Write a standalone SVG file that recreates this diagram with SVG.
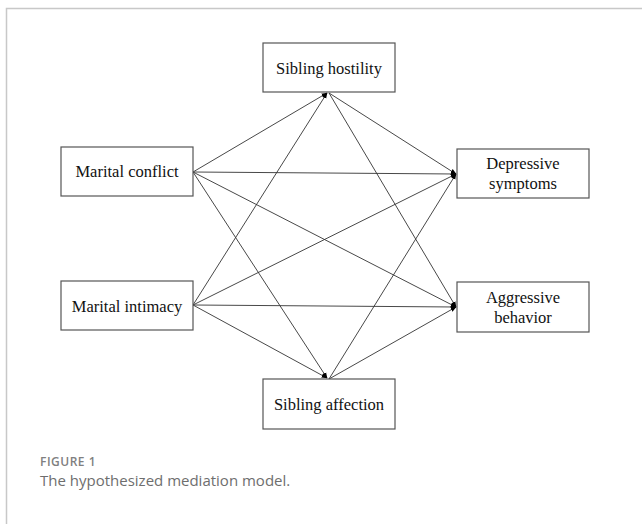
<svg xmlns="http://www.w3.org/2000/svg" width="642" height="524" viewBox="0 0 642 524">
<style>
.box{fill:#fff;stroke:#555;stroke-width:1.2}
.lbl{font-family:"Liberation Serif","Times New Roman",serif;font-size:16.5px;fill:#111;text-anchor:middle}
.edge{stroke:#333;stroke-width:0.9;fill:none;marker-end:url(#ah)}
.cap1{font-family:"Open Sans","Noto Sans",sans-serif;font-size:12px;font-weight:600;fill:#808080;letter-spacing:0.5px}
.cap2{font-family:"Open Sans","Noto Sans",sans-serif;font-size:15px;fill:#6e6e6e}
</style>
<defs>
<marker id="ah" viewBox="0 0 10 10" refX="9" refY="5" markerWidth="6" markerHeight="6" markerUnits="userSpaceOnUse" orient="auto">
<path d="M0,1 L10,5 L0,9 Z" fill="#000"/>
</marker>
</defs>
<rect width="642" height="524" fill="#fff"/>
<path d="M6.5,524 V8.5 H642" fill="none" stroke="#c8c8c8" stroke-width="1.5"/>
<g id="connectors">
<line class="edge" x1="193" y1="172" x2="327" y2="93"/>
<line class="edge" x1="193" y1="172" x2="456" y2="174"/>
<line class="edge" x1="193" y1="172" x2="456" y2="307"/>
<line class="edge" x1="193" y1="172" x2="327" y2="378"/>
<line class="edge" x1="193" y1="305" x2="327" y2="93"/>
<line class="edge" x1="193" y1="305" x2="456" y2="174"/>
<line class="edge" x1="193" y1="305" x2="456" y2="307"/>
<line class="edge" x1="193" y1="305" x2="327" y2="378"/>
<line class="edge" x1="329" y1="93" x2="456" y2="174"/>
<line class="edge" x1="329" y1="93" x2="456" y2="307"/>
<line class="edge" x1="329" y1="379" x2="456" y2="174"/>
<line class="edge" x1="329" y1="379" x2="456" y2="307"/>
</g>
<g id="sibling-hostility"><rect class="box" x="263" y="43" width="132" height="49"/><text class="lbl" x="329" y="74">Sibling hostility</text></g>
<g id="marital-conflict"><rect class="box" x="61" y="147" width="132" height="49"/><text class="lbl" x="127" y="177">Marital conflict</text></g>
<g id="depressive-symptoms"><rect class="box" x="457" y="149" width="132" height="49"/><text class="lbl" x="523" y="169">Depressive</text><text class="lbl" x="523" y="189">symptoms</text></g>
<g id="marital-intimacy"><rect class="box" x="61" y="281" width="132" height="49"/><text class="lbl" x="127" y="312">Marital intimacy</text></g>
<g id="aggressive-behavior"><rect class="box" x="457" y="282" width="132" height="50"/><text class="lbl" x="523" y="303">Aggressive</text><text class="lbl" x="523" y="323">behavior</text></g>
<g id="sibling-affection"><rect class="box" x="263" y="379" width="132" height="50"/><text class="lbl" x="329" y="410">Sibling affection</text></g>
<text class="cap1" x="40" y="466">FIGURE 1</text>
<text class="cap2" x="40" y="486">The hypothesized mediation model.</text>
</svg>
